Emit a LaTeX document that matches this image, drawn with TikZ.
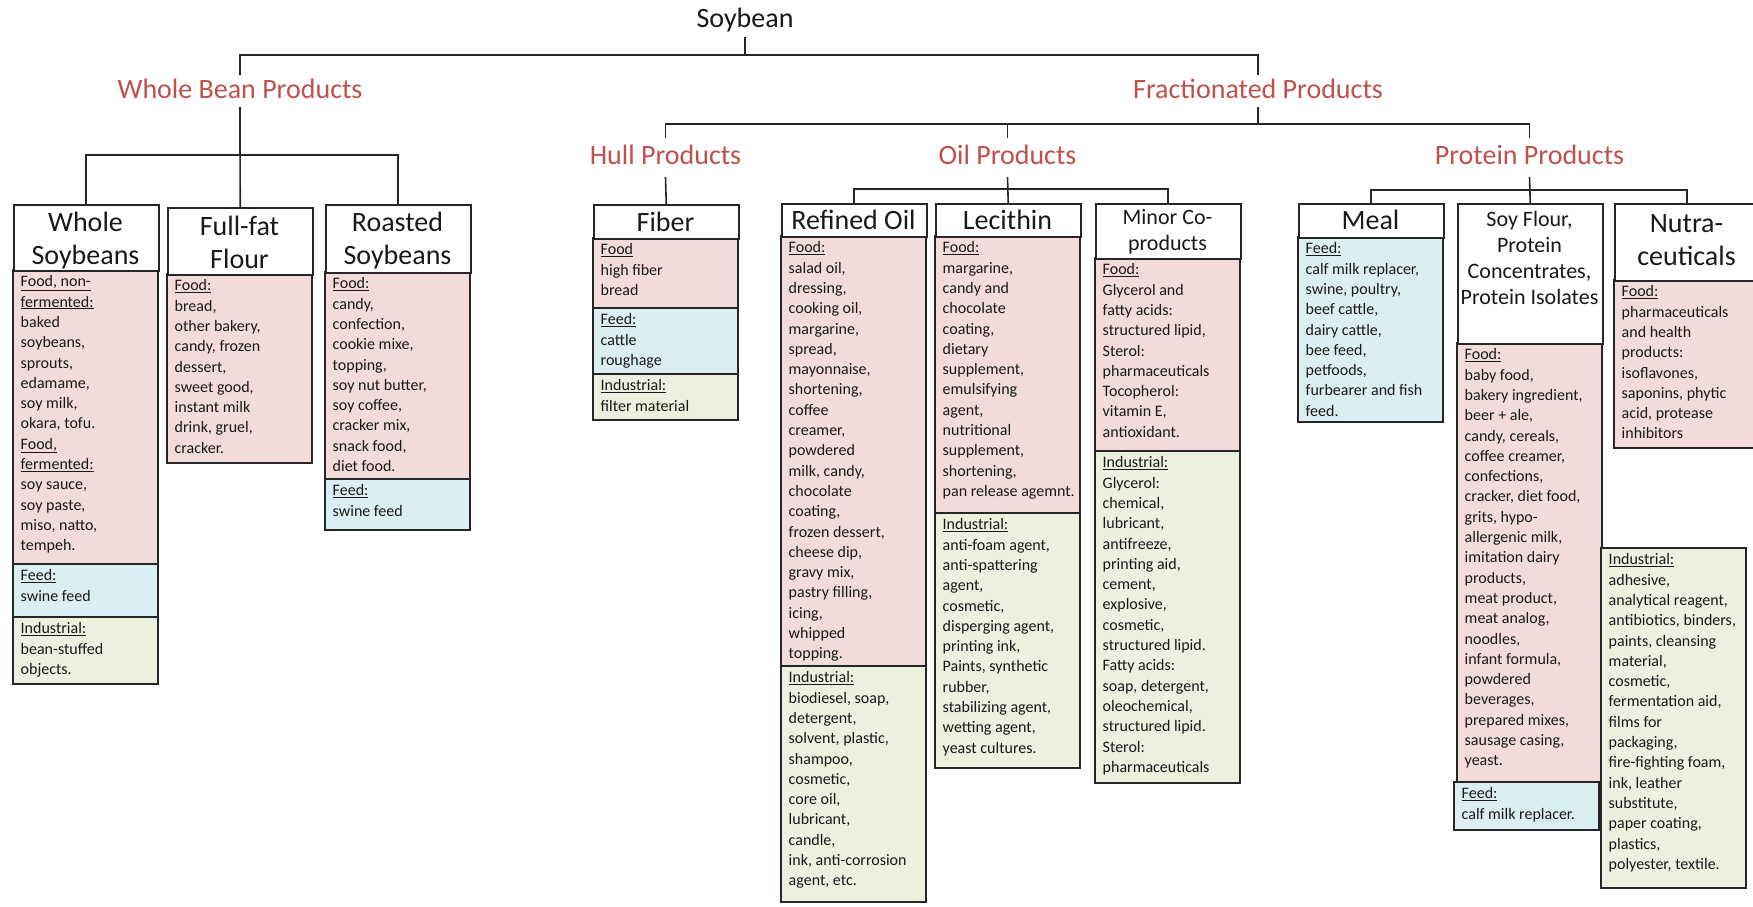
\documentclass[tikz,border=0pt]{standalone}
\usepackage{fontspec}
\setmainfont{Carlito}
\definecolor{foodc}{HTML}{F2DCDB}
\definecolor{feedc}{HTML}{DBEEF4}
\definecolor{indc}{HTML}{EBF1DE}
\definecolor{titlec}{HTML}{C0504D}
\newcommand\mysect[6]{%
  \draw[box,fill=#5] (#2,#3) rectangle ({#2+145},#4);
  \node[body] (#1) at ({#2+7.5},{#3+5.5}) {#6};}
\newcommand\myhdr[4]{%
  \node[hdrbox, minimum height={#4-#3}] (#1) at (#2,#3) {};}
\begin{document}
\begin{tikzpicture}[x=1pt,y=-1pt,
  conn/.style={line width=1.6pt, draw=black!85},
  box/.style={line width=1.5pt, draw=black!85},
  hdrbox/.style={box, fill=white, minimum width=145pt, inner sep=0pt, anchor=north west},
  ttl/.style={text=titlec, font=\fontsize{28}{33}\selectfont, text height=20pt, text depth=6pt, inner xsep=2pt, inner ysep=3pt},
  ttltwo/.style={ttl, inner ysep=6.5pt},
  soyttl/.style={ttl, text=black!90, inner ysep=4pt},
  htxt/.style={font=\fontsize{28}{33}\selectfont, align=center, inner sep=0pt, text=black!90},
  hsmall/.style={font=\fontsize{22}{25.8}\selectfont, align=center, inner sep=0pt, text=black!90},
  body/.style={font=\fontsize{16}{20.3}\selectfont, align=left, inner sep=0pt, anchor=north west, text=black!90},
]
\fill[white] (0,0) rectangle (1753,906);
\useasboundingbox (0,0) rectangle (1753,906);

% ---------- titles ----------
\node[soyttl] (soy) at (745,20) {Soybean};
\node[ttl] (wbp) at (240,91) {Whole Bean Products};
\node[ttl] (frac) at (1258,91) {Fractionated Products};
\node[ttltwo] (hull) at (665.5,157.5) {Hull Products};
\node[ttltwo] (oil) at (1007.5,157.5) {Oil Products};
\node[ttltwo] (prot) at (1529.5,157.5) {Protein Products};

% ---------- Whole Soybeans ----------
\mysect{wsfood}{13}{270}{564}{foodc}{\underline{Food, non-}\\\underline{fermented:}\\baked\\soybeans,\\sprouts,\\edamame,\\soy milk,\\okara, tofu.\\\underline{Food,}\\\underline{fermented:}\\soy sauce,\\soy paste,\\miso, natto,\\tempeh.}
\mysect{wsfeed}{13}{564}{617}{feedc}{\underline{Feed:}\\swine feed}
\mysect{wsind}{13}{617}{684}{indc}{\underline{Industrial:}\\bean-stuffed\\objects.}
\myhdr{ws}{13}{204}{270}
\node[htxt] (wst) at (85.5,240.5) {Whole\\Soybeans};

% ---------- Full-fat Flour ----------
\mysect{fffood}{167}{274}{463}{foodc}{\underline{Food:}\\bread,\\other bakery,\\candy, frozen\\dessert,\\sweet good,\\instant milk\\drink, gruel,\\cracker.}
\myhdr{ff}{167}{207}{274}
\node[htxt] (fft) at (239.5,242) {Full-fat\\Flour};

% ---------- Roasted Soybeans ----------
\mysect{rsfood}{325}{272}{479}{foodc}{\underline{Food:}\\candy,\\confection,\\cookie mixe,\\topping,\\soy nut butter,\\soy coffee,\\cracker mix,\\snack food,\\diet food.}
\mysect{rsfeed}{325}{479}{530}{feedc}{\underline{Feed:}\\swine feed}
\myhdr{rs}{325}{204}{272}
\node[htxt] (rst) at (397.5,240.5) {Roasted\\Soybeans};

% ---------- Fiber ----------
\mysect{fbfood}{593}{238}{308}{foodc}{\underline{Food}\\high fiber\\bread}
\mysect{fbfeed}{593}{308}{374}{feedc}{\underline{Feed:}\\cattle\\roughage}
\mysect{fbind}{593}{374}{420}{indc}{\underline{Industrial:}\\filter material}
\myhdr{fiber}{593}{204}{238}
\node[htxt] (fibert) at (665.5,222) {Fiber};

% ---------- Refined Oil ----------
\mysect{rofood}{781}{236}{666}{foodc}{\underline{Food:}\\salad oil,\\dressing,\\cooking oil,\\margarine,\\spread,\\mayonnaise,\\shortening,\\coffee\\creamer,\\powdered\\milk, candy,\\chocolate\\coating,\\frozen dessert,\\cheese dip,\\gravy mix,\\pastry filling,\\icing,\\whipped\\topping.}
\mysect{roind}{781}{666}{902}{indc}{\underline{Industrial:}\\biodiesel, soap,\\detergent,\\solvent, plastic,\\shampoo,\\cosmetic,\\core oil,\\lubricant,\\candle,\\ink, anti-corrosion\\agent, etc.}
\myhdr{ro}{781}{203}{236}
\node[htxt] (rot) at (853.5,220) {Refined Oil};

% ---------- Lecithin ----------
\mysect{lcfood}{935}{236}{513}{foodc}{\underline{Food:}\\margarine,\\candy and\\chocolate\\coating,\\dietary\\supplement,\\emulsifying\\agent,\\nutritional\\supplement,\\shortening,\\pan release agemnt.}
\mysect{lcind}{935}{513}{768}{indc}{\underline{Industrial:}\\anti-foam agent,\\anti-spattering\\agent,\\cosmetic,\\disperging agent,\\printing ink,\\Paints, synthetic\\rubber,\\stabilizing agent,\\wetting agent,\\yeast cultures.}
\myhdr{lec}{935}{203}{236}
\node[htxt] (lect) at (1007.5,220) {Lecithin};

% ---------- Minor Co-products ----------
\mysect{mcfood}{1095}{258}{451}{foodc}{\underline{Food:}\\Glycerol and\\fatty acids:\\structured lipid,\\Sterol:\\pharmaceuticals\\Tocopherol:\\vitamin E,\\antioxidant.}
\mysect{mcind}{1095}{451}{783}{indc}{\underline{Industrial:}\\Glycerol:\\chemical,\\lubricant,\\antifreeze,\\printing aid,\\cement,\\explosive,\\cosmetic,\\structured lipid.\\Fatty acids:\\soap, detergent,\\oleochemical,\\structured lipid.\\Sterol:\\pharmaceuticals}
\draw[line width=2.6pt, draw=black!85] (1095,451) -- (1240,451);
\myhdr{minor}{1095}{203}{258}
\node[hsmall] (minort) at (1167.5,232) {Minor Co-\\products};

% ---------- Meal ----------
\mysect{mlfeed}{1298}{237}{422}{feedc}{\underline{Feed:}\\calf milk replacer,\\swine, poultry,\\beef cattle,\\dairy cattle,\\bee feed,\\petfoods,\\furbearer and fish\\feed.}
\myhdr{meal}{1298}{203}{237}
\node[htxt] (mealt) at (1370.5,220) {Meal};

% ---------- Soy Flour ----------
\mysect{sffood}{1457}{343}{782}{foodc}{\underline{Food:}\\baby food,\\bakery ingredient,\\beer + ale,\\candy, cereals,\\coffee creamer,\\confections,\\cracker, diet food,\\grits, hypo-\\allergenic milk,\\imitation dairy\\products,\\meat product,\\meat analog,\\noodles,\\infant formula,\\powdered\\beverages,\\prepared mixes,\\sausage casing,\\yeast.}
\mysect{sffeed}{1454}{782}{830}{feedc}{\underline{Feed:}\\calf milk replacer.}
\myhdr{soyfl}{1457}{203}{343}
\node[hsmall] (soyflt) at (1529.5,258) {Soy Flour,\\Protein\\Concentrates,\\Protein Isolates};

% ---------- Nutraceuticals ----------
\mysect{nufood}{1614}{280}{448}{foodc}{\underline{Food:}\\pharmaceuticals\\and health\\products:\\isoflavones,\\saponins, phytic\\acid, protease\\inhibitors}
\mysect{nuind}{1601}{548}{888}{indc}{\underline{Industrial:}\\adhesive,\\analytical reagent,\\antibiotics, binders,\\paints, cleansing\\material,\\cosmetic,\\fermentation aid,\\films for\\packaging,\\fire-fighting foam,\\ink, leather\\substitute,\\paper coating,\\plastics,\\polyester, textile.}
\myhdr{nutra}{1614}{203}{280}
\node[htxt] (nutrat) at (1686.5,240.5) {Nutra-\\ceuticals};

% ---------- connectors ----------
\draw[conn] (soy.south) -- ++(0,18) -| (wbp.north);
\draw[conn] (soy.south) -- ++(0,18) -| (frac.north);
\draw[conn] (wbp.south) -- ++(0,48) -| (ws.north);
\draw[conn] (wbp.south) -- (ff.north);
\draw[conn] (wbp.south) -- ++(0,48) -| (rs.north);
\draw[conn] (frac.south) -- ++(0,17) -| (hull.north);
\draw[conn] (frac.south) -- ++(0,17) -| (oil.north);
\draw[conn] (frac.south) -- ++(0,17) -| (prot.north);
\draw[conn] (hull.south) -- (fiber.north);
\draw[conn] (oil.south) -- ++(0,12) -| (ro.north);
\draw[conn] (oil.south) -- (lec.north);
\draw[conn] (oil.south) -- ++(0,12) -| (minor.north);
\draw[conn] (prot.south) -- ++(0,13) -| (meal.north);
\draw[conn] (prot.south) -- (soyfl.north);
\draw[conn] (prot.south) -- ++(0,13) -| (nutra.north);
\end{tikzpicture}
\end{document}
